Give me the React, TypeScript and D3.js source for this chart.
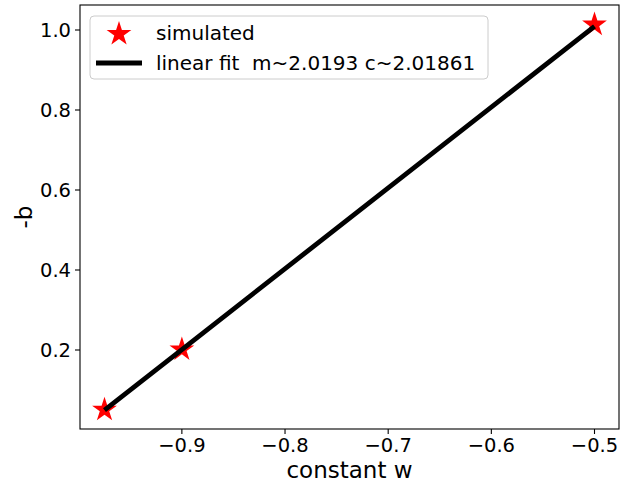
import * as d3 from 'd3'

const wValues = [-0.975, -0.9, -0.5]
const simulatedB = [0.0505, 0.2015, 1.0135]
const fitB = [0.0498, 0.2012, 1.009]
const xTicks = [-0.9, -0.8, -0.7, -0.6, -0.5]
const yTicks = [0.2, 0.4, 0.6, 0.8, 1.0]
const legendLabels = ['simulated', 'linear fit  m~2.0193 c~2.01861']

const W = 633
const H = 482
const margin = { top: 5, right: 14, bottom: 53, left: 80 }
const font = 'DejaVu Sans, sans-serif'

export default function App() {
  const innerW = W - margin.left - margin.right
  const innerH = H - margin.top - margin.bottom

  const x = d3.scaleLinear().domain([-0.99875, -0.47625]).range([0, innerW])
  const y = d3.scaleLinear().domain([0.0025, 1.0625]).range([innerH, 0])

  const star = d3.symbol().type(d3.symbolStar).size(190)()
  const line = d3.line<number>()
    .x((_, i) => x(wValues[i]))
    .y(d => y(d))

  return (
    <svg width={W} height={H} style={{ position: 'absolute', left: 0, top: 0, background: '#fff' }}>
      <g transform={`translate(${margin.left},${margin.top})`}>
        {simulatedB.map((b, i) => (
          <path key={i} d={star ?? ''} transform={`translate(${x(wValues[i])},${y(b)})`} fill="#ff0000" />
        ))}
        <path d={line(fitB) ?? ''} fill="none" stroke="#000" strokeWidth={4.8} />

        <rect x={0} y={0} width={innerW} height={innerH} fill="none" stroke="#000" strokeWidth={1.1} />

        {xTicks.map(t => (
          <g key={t} transform={`translate(${x(t)},${innerH})`}>
            <line y2={5} stroke="#000" strokeWidth={1.1} />
            <text y={23} textAnchor="middle" fontFamily={font} fontSize={19.5} fill="#000">
              {t.toFixed(1).replace('-', '\u2212')}
            </text>
          </g>
        ))}
        {yTicks.map(t => (
          <g key={t} transform={`translate(0,${y(t)})`}>
            <line x2={-5} stroke="#000" strokeWidth={1.1} />
            <text x={-9} dy="0.36em" textAnchor="end" fontFamily={font} fontSize={19.5} fill="#000">
              {t.toFixed(1)}
            </text>
          </g>
        ))}

        <g transform="translate(10,11)">
          <rect x={0} y={0} width={398} height={63} rx={4} fill="#fff" fillOpacity={0.8} stroke="#ccc" strokeWidth={1} />
          <path d={star ?? ''} transform="translate(29,18)" fill="#ff0000" />
          <line x1={6} x2={52} y1={47} y2={47} stroke="#000" strokeWidth={4.8} />
          {legendLabels.map((s, i) => (
            <text key={i} x={66} y={24 + i * 30} fontFamily={font} fontSize={20} fill="#000" style={{ whiteSpace: 'pre' }}>
              {s}
            </text>
          ))}
        </g>
      </g>
      <text x={margin.left + innerW / 2} y={478} textAnchor="middle" fontFamily={font} fontSize={23} fill="#000">
        constant w
      </text>
      <text transform={`translate(32,${margin.top + innerH / 2}) rotate(-90)`} textAnchor="middle" fontFamily={font} fontSize={23} fill="#000">
        -b
      </text>
    </svg>
  )
}
